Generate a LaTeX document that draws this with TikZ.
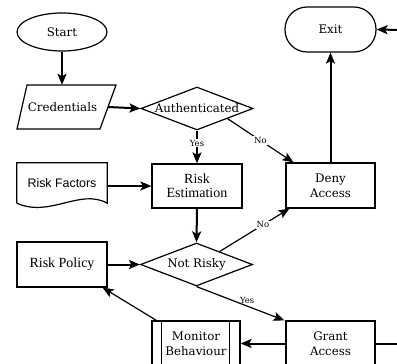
\documentclass[tikz,border=0pt]{standalone}
\usepackage{fontspec}
\setmainfont{DejaVu Serif}
\newfontfamily\sansf{Liberation Sans}
\newfontfamily\timesf{Liberation Serif}
\usetikzlibrary{shapes.geometric,arrows.meta,calc}
\begin{document}
\begin{tikzpicture}[x=1pt,y=-1pt,
  txt/.style={font=\fontsize{11.8}{15}\selectfont, align=center},
  box/.style={txt, draw, line width=1.2pt, inner sep=0pt, minimum width=89pt, minimum height=45pt},
  diam/.style={txt, draw, line width=1.2pt, diamond, inner sep=0pt, minimum width=112pt, minimum height=43pt},
  ghost/.style={txt, inner sep=0pt},
  arr/.style={line width=2pt, -{Stealth[length=11pt,width=9pt,inset=2.5pt]}},
  thinarr/.style={line width=1.2pt, -{Stealth[length=11pt,width=9pt,inset=2.5pt]}},
  lbl/.style={font=\fontsize{8.5}{9}\selectfont, fill=white, inner sep=1pt}
]
\useasboundingbox (0,0) rectangle (397,364);
\clip (0,0) rectangle (397,364);

% nodes
\node[txt, draw, line width=1.2pt, ellipse, inner sep=0pt, minimum width=90pt, minimum height=38pt] (start) at (62,32) {Start};
\node[txt, draw, line width=1.2pt, rounded corners=22pt, inner sep=0pt, minimum width=91pt, minimum height=45pt] (exit) at (330.5,29.5) {Exit};
\node[ghost, minimum width=99pt, minimum height=44pt] (cred) at (66.5,107) {\hspace*{-8pt}Credentials};
\draw[line width=1.2pt] (27,85) -- (116,85) -- (100,129) -- (17,129) -- cycle;
\coordinate (credR) at (108,107);
\node[diam] (auth) at (197,108.5) {\makebox[0pt]{Authenticated}};
\node[box, minimum width=90pt, minimum height=44pt] (est) at (197,186) {\timesf\fontsize{14}{15}\selectfont Risk\\[-1pt]\timesf\fontsize{14}{15}\selectfont Estimation};
\node[box] (deny) at (330.5,185.5) {Deny\\Access};
\node[ghost, minimum width=90pt, minimum height=40pt] (rf) at (62,183) {\sansf\fontsize{12.4}{14}\selectfont Risk Factors};
\draw[line width=1.2pt] (rf.south west) -- (rf.north west) -- (rf.north east) -- (rf.south east)
   .. controls (80,188) and (50,218) .. (rf.south west);
\node[diam] (nr) at (196.5,264.5) {\makebox[0pt]{Not Risky}};
\node[box, minimum width=90pt] (pol) at (62,264.5) {\timesf\fontsize{14}{15}\selectfont Risk Policy};
\node[box, minimum width=88pt] (mon) at (196,343.5) {Monitor\\Behaviour};
\draw[line width=1.2pt] ([xshift=10pt]mon.north west) -- ([xshift=10pt]mon.south west)
  ([xshift=-11pt]mon.north east) -- ([xshift=-11pt]mon.south east);
\node[box] (grant) at (330.5,343.5) {Grant\\Access};
\coordinate (rightA) at (400,30);
\coordinate (rightB) at (400,343.5);

% connectors
\draw[arr] (start.south) -- (start.south |- cred.north);
\draw[arr] (credR) -- (auth.west);
\draw[arr] (auth.south) -- node[lbl, pos=0.38]{Yes} (est.north);
\draw[thinarr] ($(auth.east)!0.46!(auth.south)$) -- node[lbl, pos=0.5]{No} ([xshift=8pt]deny.north west);
\draw[arr] (deny.north) -- (exit.south);
\draw[arr] (rightA) -- (exit.east);
\draw[arr] (est.west -| rf.east) -- (est.west);
\draw[arr] (est.south) -- (nr.north);
\draw[arr] (pol.east) -- (nr.west);
\draw[thinarr] ($(nr.north)!0.41!(nr.east)$) -- node[lbl, pos=0.62]{No} ([xshift=4pt]deny.south west);
\draw[thinarr] (nr.south) -- node[lbl, fill=none, above right, pos=0.5, xshift=-2pt, yshift=-2pt]{Yes} ([xshift=-1pt]grant.north west);
\draw[thinarr] ([xshift=5pt]mon.north west) -- ([xshift=-5pt]pol.south east);
\draw[arr] (grant.west) -- (mon.east);
\draw[line width=2pt] (grant.east) -- (rightB);
\end{tikzpicture}
\end{document}
